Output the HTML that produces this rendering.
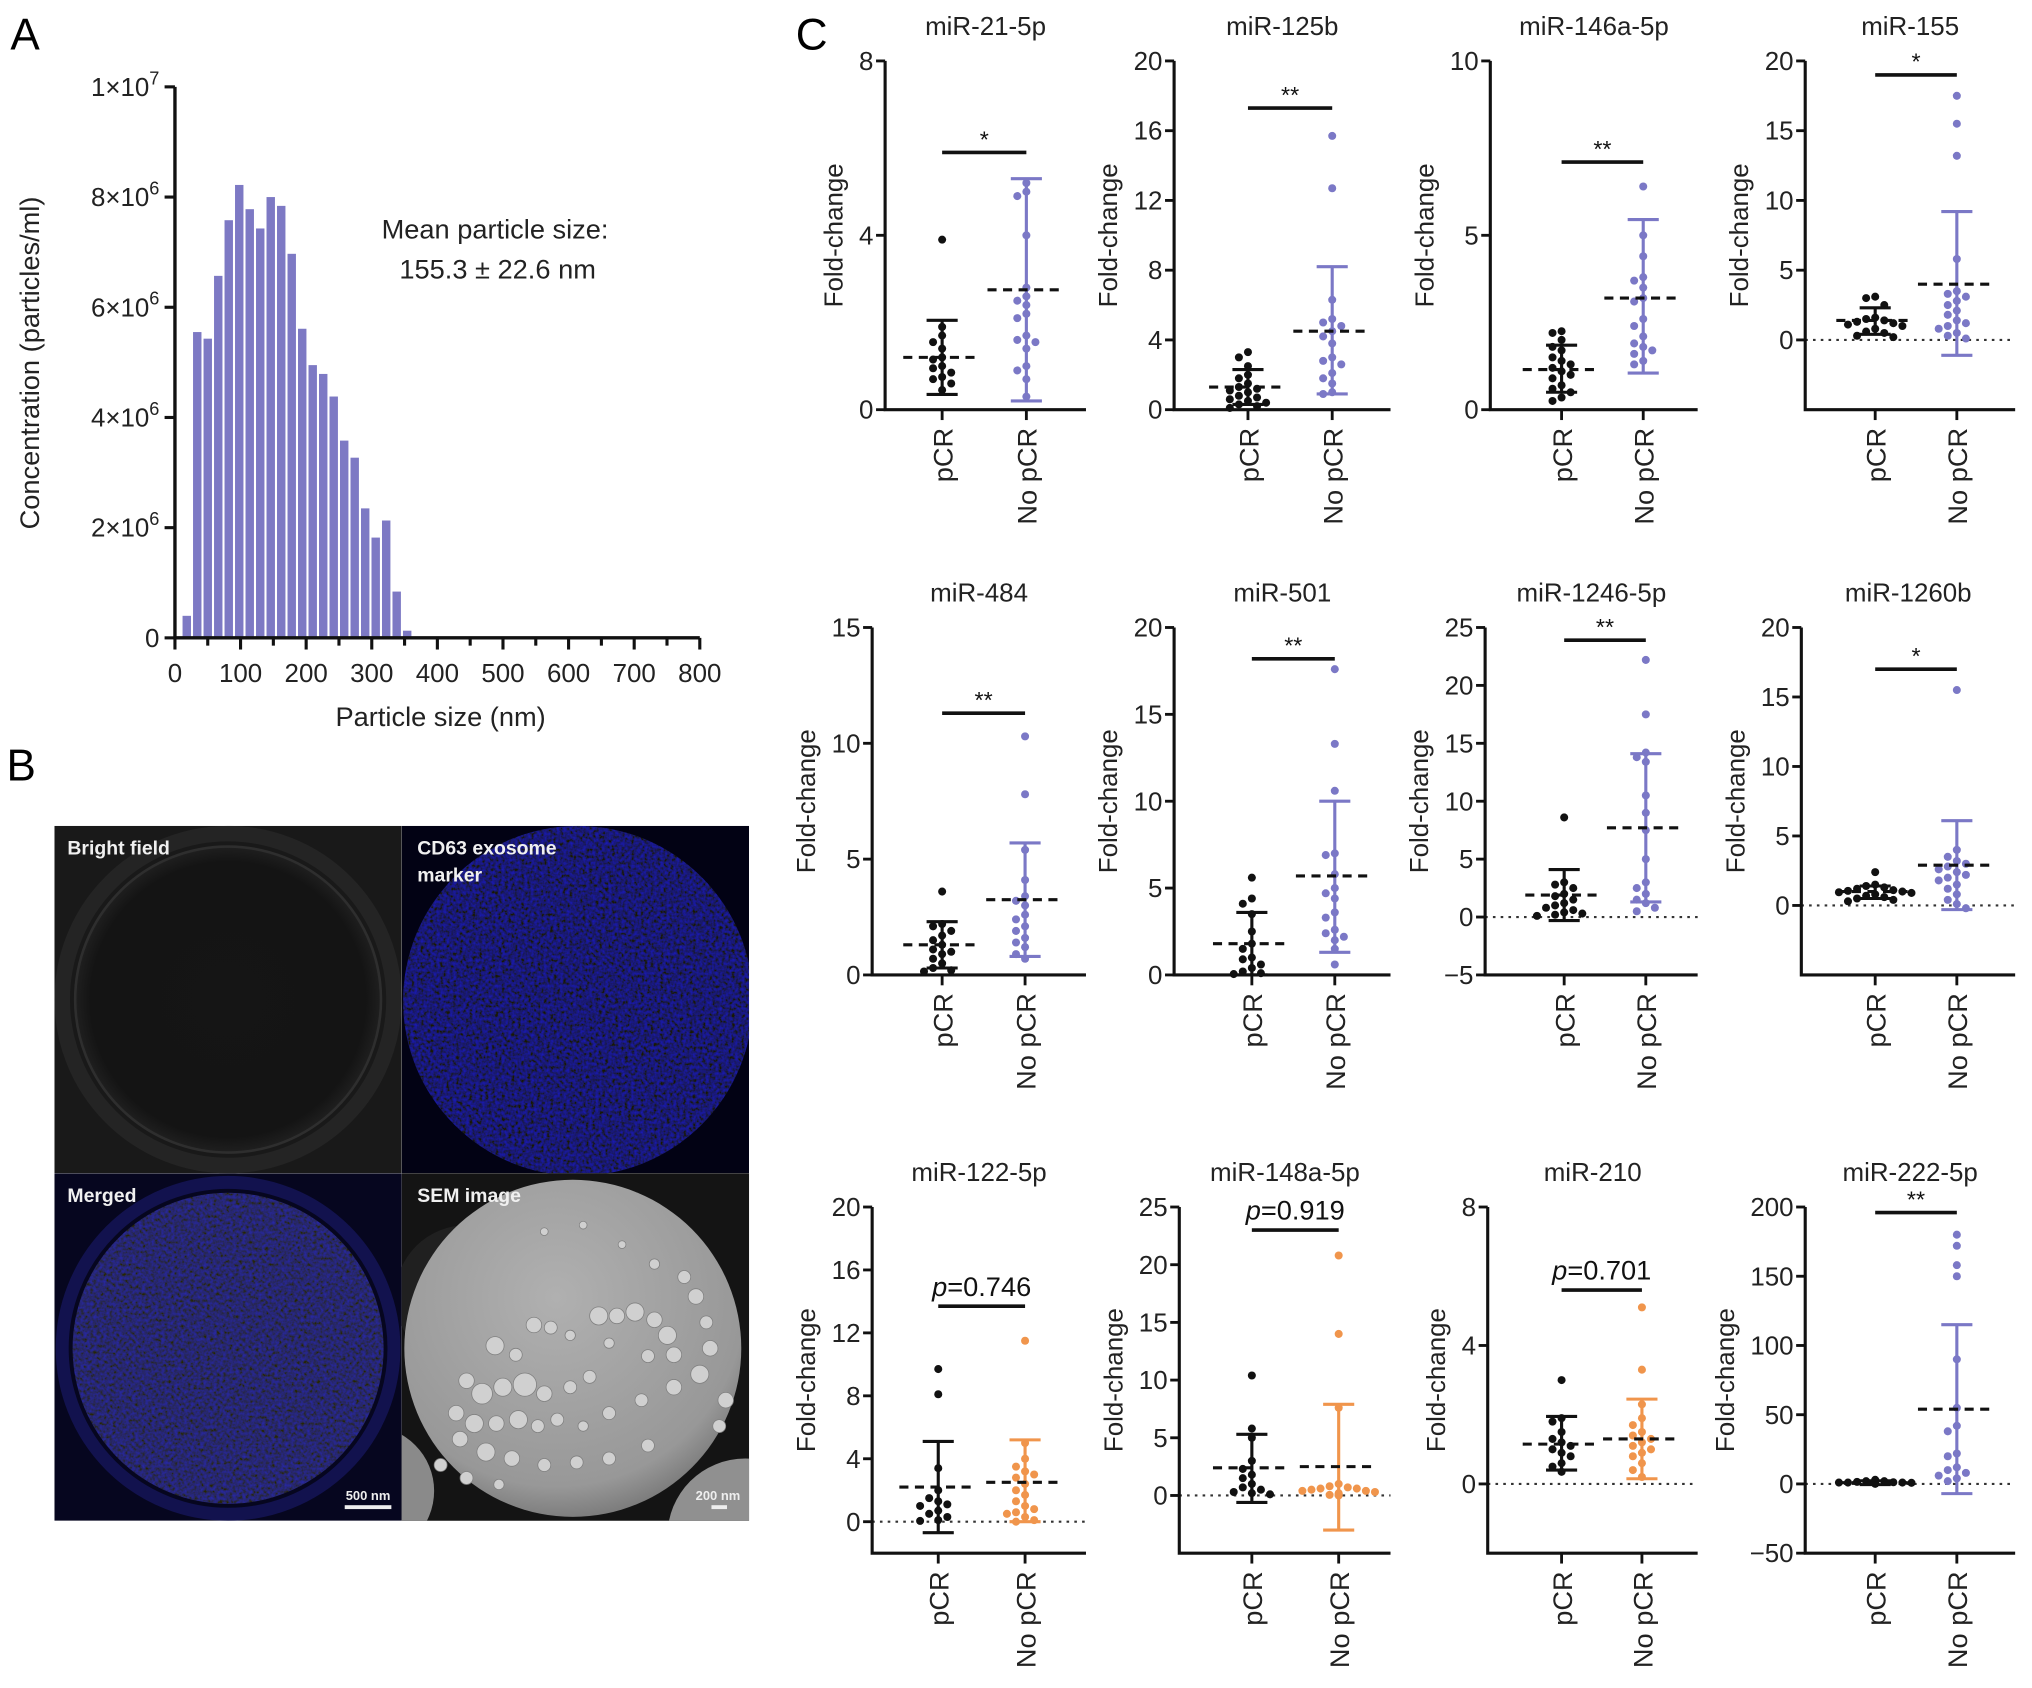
<!DOCTYPE html>
<html><head><meta charset="utf-8">
<style>
html,body{margin:0;padding:0;background:#fff;}
svg{display:block;font-family:"Liberation Sans",Arial,sans-serif;}
</style></head>
<body>
<svg id="fig" width="2032" height="1688" viewBox="0 0 1568 1302" preserveAspectRatio="none" xmlns="http://www.w3.org/2000/svg">
<defs>
  <filter id="blueNoise" x="0" y="0" width="100%" height="100%">
    <feTurbulence type="fractalNoise" baseFrequency="0.4" numOctaves="2" seed="3"/>
    <feColorMatrix type="matrix" values="0 0 0 0 0.01  0 0 0 0 0.01  0.75 0 0 0 -0.2  0 0 0 0 1"/>
  </filter>
  <filter id="blueNoise2" x="0" y="0" width="100%" height="100%">
    <feTurbulence type="fractalNoise" baseFrequency="0.4" numOctaves="2" seed="7"/>
    <feColorMatrix type="matrix" values="0 0 0 0 0.02  0 0 0 0 0.02  0.6 0 0 0 -0.14  0 0 0 0 1"/>
  </filter>
  <radialGradient id="semGrad" cx="0.45" cy="0.35" r="0.7">
    <stop offset="0" stop-color="#b0b0b0"/><stop offset="0.8" stop-color="#989898"/><stop offset="1" stop-color="#707070"/>
  </radialGradient>
  <radialGradient id="bfGrad" cx="0.5" cy="0.5" r="0.5">
    <stop offset="0" stop-color="#151515"/><stop offset="0.9" stop-color="#141414"/><stop offset="1" stop-color="#1f1f1f"/>
  </radialGradient>
  <clipPath id="cdClip"><circle cx="446" cy="772" r="135"/></clipPath>
  <clipPath id="mgClip"><circle cx="176" cy="1040" r="120"/></clipPath>
  <clipPath id="q1"><rect x="42" y="637" width="268" height="268"/></clipPath>
  <clipPath id="q2"><rect x="310" y="637" width="268" height="268"/></clipPath>
  <clipPath id="q3"><rect x="42" y="905" width="268" height="268"/></clipPath>
  <clipPath id="semPanel"><rect x="310" y="905" width="268" height="268"/></clipPath>
</defs>

<text x="8" y="38" font-size="34">A</text>
<text x="5" y="602" font-size="34">B</text>
<text x="614" y="38" font-size="34">C</text>

<g id="panelA"></g>
<text x="382" y="184" font-size="21" text-anchor="middle" fill="#222">Mean particle size:</text>
<text x="384" y="215" font-size="21" text-anchor="middle" fill="#222">155.3 ± 22.6 nm</text>
<text x="340" y="560" font-size="21" text-anchor="middle" fill="#222">Particle size (nm)</text>
<text transform="translate(30,280) rotate(-90)" font-size="21" text-anchor="middle" fill="#222">Concentration (particles/ml)</text>

<g>
  <g clip-path="url(#q1)">
    <rect x="42" y="637" width="268" height="268" fill="#191919"/>
    <circle cx="176" cy="771" r="128" fill="none" stroke="#242424" stroke-width="12"/>
    <circle cx="176" cy="771" r="118" fill="url(#bfGrad)" stroke="#2e2e2e" stroke-width="2"/>
  </g>
  <g clip-path="url(#q2)">
    <rect x="310" y="637" width="268" height="268" fill="#020214"/>
    <rect x="310" y="637" width="268" height="268" filter="url(#blueNoise)" clip-path="url(#cdClip)"/>
  </g>
  <g clip-path="url(#q3)">
    <rect x="42" y="905" width="268" height="268" fill="#06061f"/>
    <circle cx="176" cy="1040" r="128" fill="none" stroke="#12124e" stroke-width="10"/>
    <rect x="42" y="905" width="268" height="268" filter="url(#blueNoise2)" clip-path="url(#mgClip)"/>
  </g>
  <rect x="310" y="905" width="268" height="268" fill="#141414"/>
  <g clip-path="url(#semPanel)">
    <circle cx="285" cy="1150" r="50" fill="#8a8a8a"/>
    <circle cx="575" cy="1185" r="60" fill="#909090"/>
    <circle cx="360" cy="1000" r="55" fill="#202020"/>
    <circle cx="442" cy="1040" r="130" fill="url(#semGrad)"/>
    <g id="semBlobs" fill="#d0d0d0" stroke="#808080" stroke-width="0.6"></g>
  </g>
  <text x="52" y="659" font-size="15" font-weight="bold" fill="#f0f0f0">Bright field</text>
  <text x="322" y="659" font-size="15" font-weight="bold" fill="#f0f0f0">CD63 exosome</text>
  <text x="322" y="680" font-size="15" font-weight="bold" fill="#f0f0f0">marker</text>
  <text x="52" y="927" font-size="15" font-weight="bold" fill="#f0f0f0">Merged</text>
  <text x="322" y="927" font-size="15" font-weight="bold" fill="#f0f0f0">SEM image</text>
  <text x="284" y="1157" font-size="10" font-weight="bold" fill="#eee" text-anchor="middle">500 nm</text>
  <rect x="266" y="1161" width="36" height="3" fill="#eee"/>
  <text x="554" y="1157" font-size="10" font-weight="bold" fill="#eee" text-anchor="middle">200 nm</text>
  <rect x="549" y="1161" width="12" height="3" fill="#eee"/>
</g>

<g id="panelC"></g>
</svg>

<script>
// ---------- Panel A data ----------
const histBins = [18,34,50,66,82,98,114,130,146,162,178,194,210,226,242,258,274,290,306,322,338,354];
const histValues = [0.4,5.55,5.43,6.57,7.58,8.22,7.78,7.43,8.0,7.84,6.97,5.61,4.95,4.79,4.38,3.58,3.27,2.35,1.82,2.13,0.84,0.13];
const histYTicks = [0,2,4,6,8,10];
const histXTicks = [0,100,200,300,400,500,600,700,800];

// ---------- Panel C data ----------
const chartNames = ["miR-21-5p","miR-125b","miR-146a-5p","miR-155","miR-484","miR-501","miR-1246-5p","miR-1260b","miR-122-5p","miR-148a-5p","miR-210","miR-222-5p"];
const yMins = [0,0,0,-5,0,0,-5,-5,-2,-5,-2,-50];
const yMaxs = [8,20,10,20,15,20,25,20,20,25,8,200];
const yTickLabels = [[0,4,8],[0,4,8,12,16,20],[0,5,10],[0,5,10,15,20],[0,5,10,15],[0,5,10,15,20],[-5,0,5,10,15,20,25],[0,5,10,15,20],[0,4,8,12,16,20],[0,5,10,15,20,25],[0,4,8],[-50,0,50,100,150,200]];
const pcrPoints = [
 [3.9,1.9,1.7,1.55,1.4,1.2,1.15,1.0,0.95,0.85,0.75,0.7,0.6,0.45],
 [3.3,3.0,2.5,2.0,1.8,1.5,1.3,1.2,1.1,1.0,0.8,0.7,0.6,0.5,0.4,0.3,0.2,0.1],
 [2.25,2.2,2.0,1.8,1.7,1.5,1.4,1.3,1.2,1.1,1.0,0.9,0.7,0.6,0.5,0.35,0.25],
 [3.1,3.0,2.5,1.6,1.5,1.4,1.3,1.2,1.1,1.0,0.8,0.6,0.5,0.3,0.2],
 [3.6,2.2,2.1,1.9,1.7,1.5,1.3,1.1,1.0,0.9,0.7,0.5,0.3,0.2,0.15],
 [5.6,4.4,4.1,3.5,2.5,1.8,1.5,1.0,0.9,0.6,0.4,0.2,0.1,0.05],
 [8.6,3.0,2.8,2.5,2.0,1.8,1.5,1.2,1.0,0.8,0.6,0.4,0.3,0.2,0.1],
 [2.4,1.5,1.4,1.3,1.2,1.1,1.05,1.0,0.95,0.9,0.8,0.7,0.6,0.5,0.4,0.3],
 [9.7,8.1,3.4,2.0,1.5,1.3,1.1,1.0,0.7,0.5,0.3,0.1,0.05],
 [10.4,5.8,5.0,3.0,2.3,1.8,1.5,1.0,0.7,0.5,0.3,0.2,0.1],
 [3.0,1.9,1.8,1.5,1.3,1.2,1.1,1.0,0.9,0.8,0.6,0.5,0.35],
 [3,2,2,1.5,1.2,1,1,1,0.8,0.5,0.5,0.3,0.2,0.1]
];
const noPcrPoints = [
 [5.2,5.0,4.9,4.0,2.8,2.6,2.5,2.4,2.2,2.1,1.7,1.6,1.55,1.4,1.0,0.9,0.7,0.3],
 [15.7,12.7,6.3,5.2,5.0,4.8,4.5,4.2,3.8,3.0,2.8,2.6,2.1,1.8,1.5,1.0,0.9],
 [6.4,5.0,4.4,3.8,3.7,3.5,3.2,3.1,2.6,2.4,2.1,1.9,1.8,1.7,1.6,1.4,1.3],
 [17.5,15.5,13.2,5.8,3.5,3.3,3.1,2.8,2.5,2.1,1.8,1.4,1.2,1.0,0.8,0.5,0.3,0.1],
 [10.3,7.8,5.4,4.1,3.4,3.2,3.0,2.6,2.4,2.1,1.9,1.6,1.4,1.2,0.9,0.7],
 [17.6,13.3,10.6,7.0,6.9,5.8,5.0,4.7,4.4,3.6,3.3,2.6,2.4,2.2,2.0,1.5,0.6],
 [22.2,17.5,14.2,13.8,13.4,10.5,9.0,7.5,5.0,3.0,2.5,2.0,1.5,1.2,0.8,0.5],
 [15.5,4.0,3.5,3.2,3.0,2.8,2.6,2.4,2.2,2.0,1.8,1.5,1.2,0.8,0.4,0.1,-0.2],
 [11.5,5.0,4.0,3.5,3.2,3.0,2.8,2.4,2.0,1.7,1.3,1.0,0.8,0.6,0.5,0.3,0.1,0.0],
 [20.8,14.0,7.6,1.0,0.8,0.7,0.6,0.6,0.5,0.4,0.4,0.3,0.2,0.1,0.05,0.0],
 [5.1,3.3,2.3,1.9,1.7,1.5,1.4,1.3,1.2,1.1,1.0,0.9,0.8,0.6,0.4,0.2],
 [180,172,158,150,90,55,42,38,22,20,12,10,8,6,4,2]
];
const pcrMeans = [1.2,1.3,1.15,1.4,1.3,1.8,1.9,1.0,2.2,2.4,1.15,0.9];
const pcrLows = [0.35,0.3,0.5,0.4,0.3,0.0,-0.3,0.5,-0.7,-0.6,0.4,-0.5];
const pcrHighs = [2.05,2.3,1.85,2.3,2.3,3.6,4.1,1.4,5.1,5.3,1.95,2.3];
const noPcrMeans = [2.75,4.5,3.2,4.0,3.25,5.7,7.7,2.9,2.5,2.5,1.3,54];
const noPcrLows = [0.2,0.9,1.05,-1.1,0.8,1.3,1.3,-0.3,0.0,-3.0,0.15,-7];
const noPcrHighs = [5.3,8.2,5.45,9.2,5.7,10.0,14.1,6.1,5.2,7.9,2.45,115];
const sigLevels = [5.9,17.3,7.1,19.0,11.3,18.2,23.9,17.0,13.7,23.0,5.6,196];
const sigLabels = ["*","**","**","*","**","**","**","*","p=0.746","p=0.919","p=0.701","**"];
const groupLabels = ["pCR","No pCR"];
const noPcrColorKeys = ["purple","purple","purple","purple","purple","purple","purple","purple","orange","orange","orange","purple"];

const NS = "http://www.w3.org/2000/svg";
function mk(tag, attrs, parent){ const e=document.createElementNS(NS,tag); for(const k in attrs) e.setAttribute(k,attrs[k]); if(parent) parent.appendChild(e); return e; }
const colors = {purple:"#7b78c6", orange:"#f0954c", black:"#111"};

// Panel A
(function(){
  const g = document.getElementById('panelA');
  const x0=135, x1=540, yb=492, yt=67;
  const xs = v => x0 + (v/800)*(x1-x0);
  const ys = v => yb - (v/10)*(yb-yt);
  histBins.forEach((b,i)=>{
    const w = (16/800)*(x1-x0);
    const r = mk('rect',{x:xs(b)-w/2+0.8, y:ys(histValues[i]), width:w-1.6, height:yb-ys(histValues[i]), fill:"#7d79c4"}, g);
    
    
  });
  const ax = mk('path',{d:`M${x0},${yt} V${yb} H${x1}`, stroke:"#111","stroke-width":2.6, fill:"none"}, g);
  
  
  histYTicks.forEach(t=>{
    mk('line',{x1:x0-8,x2:x0,y1:ys(t),y2:ys(t),stroke:"#111","stroke-width":2.4},g);
    const tx = mk('text',{x:x0-12,y:ys(t)+7,"font-size":20,"text-anchor":"end",fill:"#222"},g);
    
    
    if(t===0){ tx.textContent="0"; }
    else if(t===10){ tx.textContent="1×10"; const s=mk('tspan',{"font-size":14,dy:-9},tx); s.textContent="7"; }
    else { tx.textContent=(t)+"×10"; const s=mk('tspan',{"font-size":14,dy:-9},tx); s.textContent="6"; }
  });
  for(let v=0; v<=800; v+=50){
    mk('line',{x1:xs(v),x2:xs(v),y1:yb,y2:yb+(v%100===0?9:6),stroke:"#111","stroke-width":2.4},g);
  }
  histXTicks.forEach(t=>{
    const tx = mk('text',{x:xs(t),y:yb+34,"font-size":20,"text-anchor":"middle",fill:"#222"},g);
    
    
    tx.textContent=t;
  });
})();

(function(){
  const g=document.getElementById('semBlobs');
  const bl=[[412,1022,6],[425,1024,5],[440,1030,4],[462,1015,7],[476,1015,6],[490,1012,7],[505,1018,6],[515,1030,7],[520,1045,6],[500,1046,5],[470,1036,4],[398,1045,5],[382,1038,7],[360,1065,6],[372,1075,8],[388,1070,7],[405,1068,9],[420,1075,6],[440,1070,5],[455,1062,5],[352,1090,6],[366,1098,7],[383,1098,6],[400,1095,7],[415,1100,5],[430,1095,5],[450,1100,4],[470,1090,5],[495,1080,5],[520,1070,6],[540,1060,7],[548,1040,6],[545,1020,5],[537,1000,6],[528,985,5],[420,950,3],[450,945,3],[480,960,3],[505,975,4],[355,1110,6],[375,1120,7],[395,1125,6],[420,1130,5],[445,1128,5],[470,1125,5],[500,1115,5],[340,1130,5],[360,1140,5],[385,1145,4],[560,1080,6],[555,1100,5]];
  bl.forEach(b=>mk('circle',{cx:b[0],cy:b[1],r:b[2]},g));
})();

const chartAxisX = [683,906,1150,1393, 673,906,1146,1390, 673,910,1148,1393];
const chartAxisEnd = [838,1073,1310,1555, 838,1073,1310,1555, 838,1073,1310,1555];
const chartTop = [47,47,47,47, 484,484,484,484, 931,931,931,931];
const chartBottom = [316,316,316,316, 752,752,752,752, 1198,1198,1198,1198];
const grpX = [[727,792],[963,1028],[1205,1268],[1447,1510],[727,791],[966,1030],[1207,1270],[1447,1510],[724,791],[966,1033],[1205,1267],[1447,1510]];

function swarm(vals, ys){
  const placed=[]; const out=[];
  const sorted = vals.map((v,i)=>({v,i})).sort((a,b)=>b.v-a.v);
  sorted.forEach(o=>{
    const y=ys(o.v);
    const cands=[0,-7,7,-14,14,-21,21,-28,28];
    let dx=0;
    for(const c of cands){ if(placed.every(p=>Math.hypot(p[0]-c,p[1]-y)>=6.6)){ dx=c; break; } }
    placed.push([dx,y]); out[o.i]=[dx,y];
  });
  return out;
}

(function(){
  const root=document.getElementById('panelC');
  chartNames.forEach((name,ci)=>{
    const g=mk('g',{},root);
    
    
    const ax=chartAxisX[ci], xe=chartAxisEnd[ci], yt=chartTop[ci], yb=chartBottom[ci];
    const lo=yMins[ci], hi=yMaxs[ci];
    const ys = v => yb - (v-lo)/(hi-lo)*(yb-yt);
    const title=mk('text',{x:(ax+xe)/2,y:yt-20,"font-size":20,"text-anchor":"middle",fill:"#222"},g);
    
    
    title.textContent=name;
    if(lo<0){
      const zl=mk('line',{x1:ax,x2:xe,y1:ys(0),y2:ys(0),stroke:"#333","stroke-width":1.6,"stroke-dasharray":"2 4"},g);
      
      
    }
    const axis=mk('path',{d:`M${ax},${yt} V${yb} H${xe}`,stroke:"#111","stroke-width":2.4,fill:"none"},g);
    
    
    let maxLen=1;
    yTickLabels[ci].forEach(t=>{
      mk('line',{x1:ax-7,x2:ax,y1:ys(t),y2:ys(t),stroke:"#111","stroke-width":2.2},g);
      const tx=mk('text',{x:ax-9,y:ys(t)+7,"font-size":20,"text-anchor":"end",fill:"#222"},g);
      
      
      tx.textContent = t<0 ? "−"+Math.abs(t) : t;
      maxLen=Math.max(maxLen,tx.textContent.length);
    });
    const off = 22 + maxLen*11;
    const yt2=mk('text',{transform:`translate(${ax-off},${(yt+yb)/2}) rotate(-90)`,"font-size":20,"text-anchor":"middle",fill:"#222"},g);
    
    
    yt2.textContent="Fold-change";
    const groups=[
      {pts:pcrPoints[ci],m:pcrMeans[ci],l:pcrLows[ci],h:pcrHighs[ci],col:colors.black,x:grpX[ci][0]},
      {pts:noPcrPoints[ci],m:noPcrMeans[ci],l:noPcrLows[ci],h:noPcrHighs[ci],col:colors[noPcrColorKeys[ci]],x:grpX[ci][1]}
    ];
    groups.forEach((gr,gi)=>{
      mk('line',{x1:gr.x,x2:gr.x,y1:yb,y2:yb+8,stroke:"#111","stroke-width":2.2},g);
      const lab=mk('text',{transform:`translate(${gr.x+8},${yb+14}) rotate(-90)`,"font-size":21,"text-anchor":"end",fill:"#222"},g);
      
      
      lab.textContent=groupLabels[gi];
      const pos=swarm(gr.pts,ys);
      gr.pts.forEach((v,i)=>{
        const c=mk('circle',{cx:gr.x+pos[i][0],cy:pos[i][1],r:3.1,fill:gr.col},g);
        
        
      });
      const eb=mk('path',{d:`M${gr.x},${ys(gr.l)} V${ys(gr.h)} M${gr.x-12},${ys(gr.l)} H${gr.x+12} M${gr.x-12},${ys(gr.h)} H${gr.x+12}`,stroke:gr.col,"stroke-width":2.4,fill:"none"},g);
      
      
      const ml=mk('line',{x1:gr.x-30,x2:gr.x+30,y1:ys(gr.m),y2:ys(gr.m),stroke:"#111","stroke-width":2.4,"stroke-dasharray":"7 5"},g);
      
      
    });
    const sy=ys(sigLevels[ci]);
    const sb=mk('line',{x1:grpX[ci][0],x2:grpX[ci][1],y1:sy,y2:sy,stroke:"#111","stroke-width":2.8},g);
    
    
    const lab=sigLabels[ci];
    const st=mk('text',{x:(grpX[ci][0]+grpX[ci][1])/2,y:lab.startsWith('p')?sy-8:sy-4,"font-size":lab.startsWith('p')?21:18,"text-anchor":"middle",fill:"#111"},g);
    
    
    if(lab.startsWith('p')){
      const it=mk('tspan',{"font-style":"italic"},st); it.textContent="p";
      const rest=mk('tspan',{},st); rest.textContent=lab.slice(1);
    } else st.textContent=lab;
  });
})();
</script>
</body></html>
